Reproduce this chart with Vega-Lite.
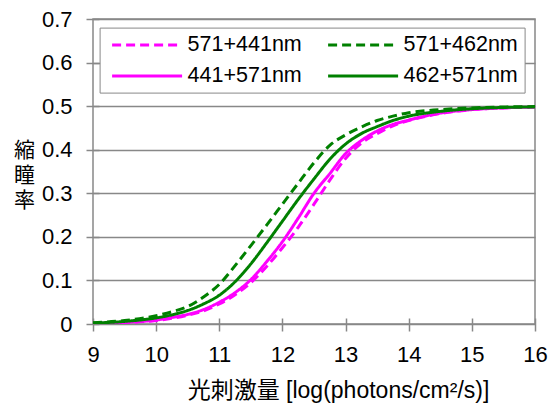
{
  "$schema": "https://vega.github.io/schema/vega-lite/v6.json",
  "width": 442,
  "height": 305,
  "autosize": {"type": "none"},
  "padding": {"left": 93, "top": 19, "right": 17, "bottom": 82},
  "background": "white",
  "config": {"view": {"stroke": "#888888", "strokeWidth": 1.5}, "font": "Liberation Sans"},
  "datasets": {
    "curves": [
      {"series": "571+441nm", "x": 9, "y": 0.001}, {"series": "571+441nm", "x": 9.5, "y": 0.003}, {"series": "571+441nm", "x": 10, "y": 0.008}, {"series": "571+441nm", "x": 10.25, "y": 0.013}, {"series": "571+441nm", "x": 10.5, "y": 0.020}, {"series": "571+441nm", "x": 10.75, "y": 0.030}, {"series": "571+441nm", "x": 11, "y": 0.046}, {"series": "571+441nm", "x": 11.25, "y": 0.067}, {"series": "571+441nm", "x": 11.5, "y": 0.095}, {"series": "571+441nm", "x": 11.75, "y": 0.132}, {"series": "571+441nm", "x": 12, "y": 0.175}, {"series": "571+441nm", "x": 12.25, "y": 0.222}, {"series": "571+441nm", "x": 12.5, "y": 0.275}, {"series": "571+441nm", "x": 12.75, "y": 0.330}, {"series": "571+441nm", "x": 13, "y": 0.380}, {"series": "571+441nm", "x": 13.25, "y": 0.415}, {"series": "571+441nm", "x": 13.5, "y": 0.437}, {"series": "571+441nm", "x": 13.75, "y": 0.455}, {"series": "571+441nm", "x": 14, "y": 0.467}, {"series": "571+441nm", "x": 14.5, "y": 0.483}, {"series": "571+441nm", "x": 15, "y": 0.492}, {"series": "571+441nm", "x": 15.5, "y": 0.496}, {"series": "571+441nm", "x": 16, "y": 0.498},
      {"series": "441+571nm", "x": 9, "y": 0.001}, {"series": "441+571nm", "x": 9.5, "y": 0.004}, {"series": "441+571nm", "x": 10, "y": 0.009}, {"series": "441+571nm", "x": 10.25, "y": 0.015}, {"series": "441+571nm", "x": 10.5, "y": 0.022}, {"series": "441+571nm", "x": 10.75, "y": 0.033}, {"series": "441+571nm", "x": 11, "y": 0.050}, {"series": "441+571nm", "x": 11.25, "y": 0.072}, {"series": "441+571nm", "x": 11.5, "y": 0.102}, {"series": "441+571nm", "x": 11.75, "y": 0.143}, {"series": "441+571nm", "x": 12, "y": 0.189}, {"series": "441+571nm", "x": 12.25, "y": 0.243}, {"series": "441+571nm", "x": 12.5, "y": 0.300}, {"series": "441+571nm", "x": 12.75, "y": 0.345}, {"series": "441+571nm", "x": 13, "y": 0.391}, {"series": "441+571nm", "x": 13.25, "y": 0.421}, {"series": "441+571nm", "x": 13.5, "y": 0.443}, {"series": "441+571nm", "x": 13.75, "y": 0.458}, {"series": "441+571nm", "x": 14, "y": 0.468}, {"series": "441+571nm", "x": 14.5, "y": 0.484}, {"series": "441+571nm", "x": 15, "y": 0.492}, {"series": "441+571nm", "x": 15.5, "y": 0.496}, {"series": "441+571nm", "x": 16, "y": 0.498},
      {"series": "462+571nm", "x": 9, "y": 0.002}, {"series": "462+571nm", "x": 9.5, "y": 0.006}, {"series": "462+571nm", "x": 10, "y": 0.014}, {"series": "462+571nm", "x": 10.25, "y": 0.021}, {"series": "462+571nm", "x": 10.5, "y": 0.031}, {"series": "462+571nm", "x": 10.75, "y": 0.046}, {"series": "462+571nm", "x": 11, "y": 0.066}, {"series": "462+571nm", "x": 11.25, "y": 0.097}, {"series": "462+571nm", "x": 11.5, "y": 0.138}, {"series": "462+571nm", "x": 11.75, "y": 0.186}, {"series": "462+571nm", "x": 12, "y": 0.236}, {"series": "462+571nm", "x": 12.25, "y": 0.286}, {"series": "462+571nm", "x": 12.5, "y": 0.333}, {"series": "462+571nm", "x": 12.75, "y": 0.378}, {"series": "462+571nm", "x": 13, "y": 0.413}, {"series": "462+571nm", "x": 13.25, "y": 0.437}, {"series": "462+571nm", "x": 13.5, "y": 0.453}, {"series": "462+571nm", "x": 13.75, "y": 0.467}, {"series": "462+571nm", "x": 14, "y": 0.477}, {"series": "462+571nm", "x": 14.5, "y": 0.488}, {"series": "462+571nm", "x": 15, "y": 0.494}, {"series": "462+571nm", "x": 15.5, "y": 0.497}, {"series": "462+571nm", "x": 16, "y": 0.498},
      {"series": "571+462nm", "x": 9, "y": 0.003}, {"series": "571+462nm", "x": 9.5, "y": 0.008}, {"series": "571+462nm", "x": 10, "y": 0.019}, {"series": "571+462nm", "x": 10.25, "y": 0.028}, {"series": "571+462nm", "x": 10.5, "y": 0.040}, {"series": "571+462nm", "x": 10.75, "y": 0.062}, {"series": "571+462nm", "x": 11, "y": 0.091}, {"series": "571+462nm", "x": 11.25, "y": 0.134}, {"series": "571+462nm", "x": 11.5, "y": 0.180}, {"series": "571+462nm", "x": 11.75, "y": 0.227}, {"series": "571+462nm", "x": 12, "y": 0.275}, {"series": "571+462nm", "x": 12.25, "y": 0.323}, {"series": "571+462nm", "x": 12.5, "y": 0.370}, {"series": "571+462nm", "x": 12.75, "y": 0.410}, {"series": "571+462nm", "x": 13, "y": 0.434}, {"series": "571+462nm", "x": 13.25, "y": 0.452}, {"series": "571+462nm", "x": 13.5, "y": 0.467}, {"series": "571+462nm", "x": 13.75, "y": 0.477}, {"series": "571+462nm", "x": 14, "y": 0.485}, {"series": "571+462nm", "x": 14.5, "y": 0.492}, {"series": "571+462nm", "x": 15, "y": 0.496}, {"series": "571+462nm", "x": 15.5, "y": 0.498}, {"series": "571+462nm", "x": 16, "y": 0.499}
    ]
  },
  "data": {"name": "curves"},
  "mark": {"type": "line", "strokeWidth": 3, "interpolate": "monotone", "clip": true},
  "encoding": {
    "x": {
      "field": "x", "type": "quantitative",
      "scale": {"domain": [9, 16], "nice": false, "zero": false},
      "axis": {
        "values": [9, 10, 11, 12, 13, 14, 15, 16], "format": "d",
        "domain": false, "offset": -6, "tickSize": 13, "tickColor": "#888888", "tickWidth": 1.5,
        "grid": false, "labelFontSize": 22, "labelColor": "black", "labelPadding": 13, "labelFlush": false,
        "title": "光刺激量 [log(photons/cm²/s)]", "titleFontSize": 23, "titleFont": "Liberation Sans, Noto Sans CJK JP",
        "titleFontWeight": "normal", "titleColor": "black", "titleX": 245, "titleY": 72, "titleAlign": "center", "titleBaseline": "middle"
      }
    },
    "y": {
      "field": "y", "type": "quantitative",
      "scale": {"domain": [0, 0.7], "nice": false},
      "axis": {
        "values": [0, 0.1, 0.2, 0.3, 0.4, 0.5, 0.6, 0.7], "format": "~g",
        "domain": false, "offset": -6, "tickSize": 13, "tickColor": "#888888", "tickWidth": 1.5,
        "grid": true, "gridColor": "#888888", "gridWidth": 1.3,
        "labelFontSize": 22, "labelColor": "black", "labelPadding": 14,
        "title": ["縮", "瞳", "率"], "titleAngle": 0, "titleFontSize": 21, "titleLineHeight": 25,
        "titleFont": "Noto Sans CJK JP", "titleFontWeight": "normal", "titleColor": "black",
        "titleX": -75, "titleY": 131, "titleAlign": "center", "titleBaseline": "middle"
      }
    },
    "color": {
      "field": "series", "type": "nominal",
      "scale": {"domain": ["571+441nm", "571+462nm", "441+571nm", "462+571nm"], "range": ["#FF00FF", "#008000", "#FF00FF", "#008000"]},
      "legend": {
        "orient": "none", "legendX": 6.6, "legendY": 8.6, "columns": 2, "direction": "horizontal", "title": null,
        "symbolType": "M-3.5,0H3.5", "symbolSize": 400, "symbolStrokeWidth": 3,
        "labelFontSize": 21.5, "labelFont": "Liberation Sans", "labelColor": "black", "labelOffset": 29, "labelLimit": 300,
        "columnPadding": 19, "rowPadding": 9, "padding": 6, "symbolOffset": 30,
        "strokeColor": "#888888", "fillColor": "white"
      }
    },
    "strokeDash": {
      "field": "series", "type": "nominal",
      "scale": {"domain": ["571+441nm", "571+462nm", "441+571nm", "462+571nm"], "range": [[9, 5], [9, 5], [1, 0], [1, 0]]},
      "legend": {"title": null}
    }
  }
}
